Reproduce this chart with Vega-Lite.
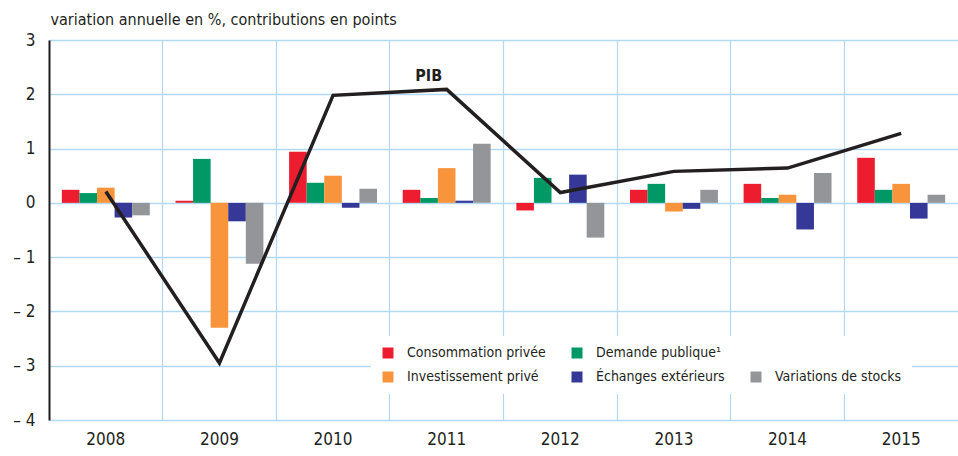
{
  "$schema": "https://vega.github.io/schema/vega-lite/v6.json",
  "autosize": "none",
  "width": 909,
  "height": 380,
  "padding": {"left": 49, "top": 40, "right": 0, "bottom": 36},
  "background": "white",
  "config": {
    "font": "Liberation Sans Narrow, DejaVu Sans Condensed, Roboto Condensed, Liberation Sans, sans-serif",
    "view": {"stroke": null}
  },
  "datasets": {
    "bars": [
      {"year": "2008", "series": "Consommation privée", "value": 0.24},
      {"year": "2008", "series": "Demande publique¹", "value": 0.18},
      {"year": "2008", "series": "Investissement privé", "value": 0.28},
      {"year": "2008", "series": "Échanges extérieurs", "value": -0.27},
      {"year": "2008", "series": "Variations de stocks", "value": -0.23},
      {"year": "2009", "series": "Consommation privée", "value": 0.04},
      {"year": "2009", "series": "Demande publique¹", "value": 0.81},
      {"year": "2009", "series": "Investissement privé", "value": -2.3},
      {"year": "2009", "series": "Échanges extérieurs", "value": -0.34},
      {"year": "2009", "series": "Variations de stocks", "value": -1.12},
      {"year": "2010", "series": "Consommation privée", "value": 0.94},
      {"year": "2010", "series": "Demande publique¹", "value": 0.37},
      {"year": "2010", "series": "Investissement privé", "value": 0.5},
      {"year": "2010", "series": "Échanges extérieurs", "value": -0.09},
      {"year": "2010", "series": "Variations de stocks", "value": 0.26},
      {"year": "2011", "series": "Consommation privée", "value": 0.24},
      {"year": "2011", "series": "Demande publique¹", "value": 0.09},
      {"year": "2011", "series": "Investissement privé", "value": 0.64},
      {"year": "2011", "series": "Échanges extérieurs", "value": 0.04},
      {"year": "2011", "series": "Variations de stocks", "value": 1.09},
      {"year": "2012", "series": "Consommation privée", "value": -0.14},
      {"year": "2012", "series": "Demande publique¹", "value": 0.46},
      {"year": "2012", "series": "Investissement privé", "value": 0.0},
      {"year": "2012", "series": "Échanges extérieurs", "value": 0.52},
      {"year": "2012", "series": "Variations de stocks", "value": -0.64},
      {"year": "2013", "series": "Consommation privée", "value": 0.24},
      {"year": "2013", "series": "Demande publique¹", "value": 0.35},
      {"year": "2013", "series": "Investissement privé", "value": -0.16},
      {"year": "2013", "series": "Échanges extérieurs", "value": -0.11},
      {"year": "2013", "series": "Variations de stocks", "value": 0.24},
      {"year": "2014", "series": "Consommation privée", "value": 0.35},
      {"year": "2014", "series": "Demande publique¹", "value": 0.09},
      {"year": "2014", "series": "Investissement privé", "value": 0.15},
      {"year": "2014", "series": "Échanges extérieurs", "value": -0.49},
      {"year": "2014", "series": "Variations de stocks", "value": 0.55},
      {"year": "2015", "series": "Consommation privée", "value": 0.83},
      {"year": "2015", "series": "Demande publique¹", "value": 0.24},
      {"year": "2015", "series": "Investissement privé", "value": 0.35},
      {"year": "2015", "series": "Échanges extérieurs", "value": -0.29},
      {"year": "2015", "series": "Variations de stocks", "value": 0.15}
    ],
    "pib": [
      {"year": "2008", "value": 0.21},
      {"year": "2009", "value": -2.95},
      {"year": "2010", "value": 1.98},
      {"year": "2011", "value": 2.09},
      {"year": "2012", "value": 0.19},
      {"year": "2013", "value": 0.58},
      {"year": "2014", "value": 0.64},
      {"year": "2015", "value": 1.28}
    ]
  },
  "encoding": {
    "x": {
      "field": "year",
      "type": "nominal",
      "sort": null,
      "scale": {"paddingInner": 0, "paddingOuter": 0},
      "axis": {
        "title": null,
        "labelAngle": 0,
        "domain": false,
        "ticks": false,
        "grid": true,
        "bandPosition": 0,
        "gridColor": "#b3d9f2",
        "gridWidth": 1.2,
        "labelFontSize": 17,
        "labelColor": "#231f20",
        "labelPadding": 11
      }
    },
    "y": {
      "field": "value",
      "type": "quantitative",
      "scale": {"domain": [-4, 3], "nice": false, "zero": false},
      "axis": {
        "title": "variation annuelle en %, contributions en points",
        "titleAngle": 0,
        "titleX": 1,
        "titleY": -16,
        "titleAlign": "left",
        "titleAnchor": null,
        "titleBaseline": "alphabetic",
        "titleFontSize": 16,
        "titleFontWeight": "normal",
        "titleColor": "#231f20",
        "values": [-4, -3, -2, -1, 0, 1, 2, 3],
        "labelExpr": "datum.value < 0 ? '– ' + abs(datum.value) : '' + datum.value",
        "domain": true,
        "domainColor": "#231f20",
        "domainWidth": 2,
        "ticks": false,
        "grid": true,
        "gridColor": "#b3d9f2",
        "gridWidth": 1.5,
        "labelFontSize": 17,
        "labelColor": "#231f20",
        "labelPadding": 14
      }
    }
  },
  "layer": [
    {
      "data": {"name": "bars"},
      "mark": {"type": "bar"},
      "encoding": {
        "xOffset": {
          "field": "series",
          "type": "nominal",
          "scale": {
            "domain": ["Consommation privée", "Demande publique¹", "Investissement privé", "Échanges extérieurs", "Variations de stocks"],
            "paddingInner": 0,
            "paddingOuter": 0.73
          }
        },
        "color": {
          "field": "series",
          "type": "nominal",
          "scale": {
            "domain": ["Consommation privée", "Demande publique¹", " ", "Investissement privé", "Échanges extérieurs", "Variations de stocks"],
            "range": ["#ed1c2e", "#009966", "rgba(0,0,0,0)", "#f7943c", "#353896", "#939598"]
          },
          "legend": {
            "title": null,
            "orient": "none",
            "legendX": 322,
            "legendY": 296,
            "direction": "horizontal",
            "columns": 3,
            "columnPadding": 24,
            "rowPadding": 10,
            "padding": 10,
            "fillColor": "white",
            "symbolType": "square",
            "symbolSize": 121,
            "symbolStrokeWidth": 0,
            "symbolOpacity": 1,
            "labelFontSize": 14,
            "labelColor": "#231f20",
            "labelOffset": 12,
            "labelLimit": 300
          }
        }
      }
    },
    {
      "mark": {"type": "rule", "color": "#231f20", "strokeWidth": 2},
      "encoding": {"y": {"datum": 0}, "x": null}
    },
    {
      "data": {"name": "pib"},
      "mark": {"type": "line", "color": "#231f20", "strokeWidth": 3.5, "strokeJoin": "miter"}
    },
    {
      "data": {"name": "pib"},
      "transform": [{"filter": "datum.year == '2011'"}],
      "mark": {"type": "text", "text": "PIB", "fontWeight": "bold", "fontSize": 16, "color": "#231f20", "dx": -18, "dy": -13}
    }
  ]
}
